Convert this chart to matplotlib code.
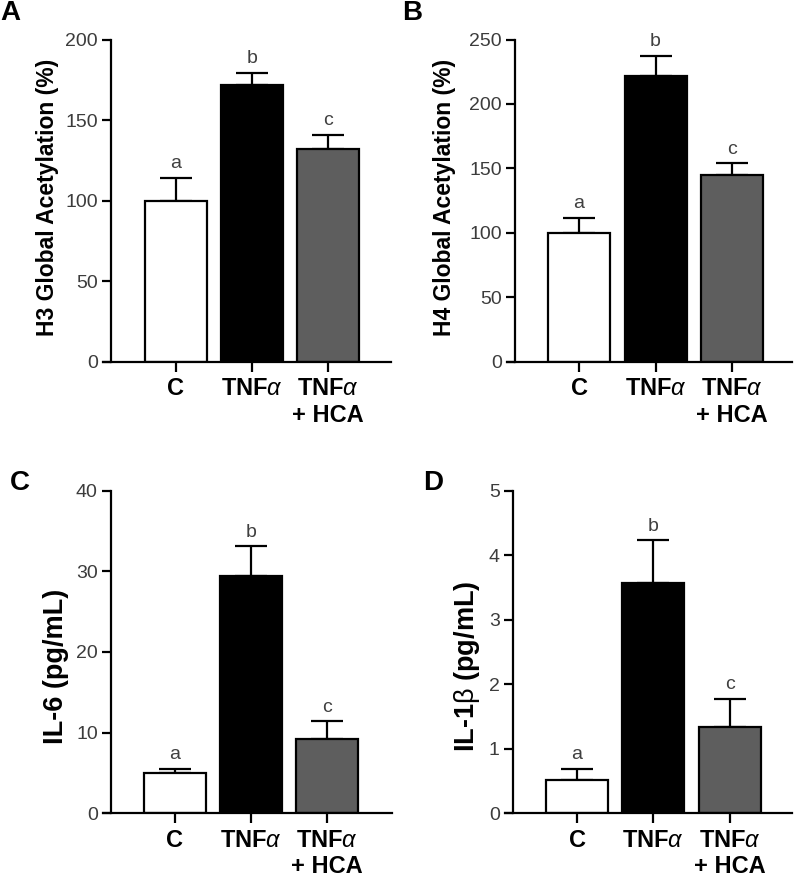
import matplotlib
matplotlib.use("Agg")
import matplotlib.pyplot as plt
import numpy as np

plt.rcParams['font.family'] = ['Liberation Sans', 'DejaVu Sans']
plt.rcParams['mathtext.fontset'] = 'custom'
plt.rcParams['mathtext.rm'] = 'Liberation Sans'
plt.rcParams['mathtext.it'] = 'Liberation Sans:italic'
plt.rcParams['mathtext.bf'] = 'Liberation Sans:bold'

# ---------------- data ----------------
categories = ['C', 'TNF$\\alpha$', 'TNF$\\alpha$\n+ HCA']
bar_colors = ['white', 'black', '#5e5e5e']
sig_letters = ['a', 'b', 'c']

h3_mean = [100, 171.6, 132.0]
h3_sem = [14.3, 7.6, 8.8]
h4_mean = [100, 222.0, 144.5]
h4_sem = [11.7, 15.3, 9.5]
il6_mean = [4.96, 29.45, 9.25]
il6_sem = [0.55, 3.65, 2.15]
il1b_mean = [0.52, 3.57, 1.33]
il1b_sem = [0.17, 0.66, 0.44]

panels = [
    dict(tag='A', mean=h3_mean, sem=h3_sem, ymax=200, ystep=50,
         ylabel='H3 Global Acetylation (%)'),
    dict(tag='B', mean=h4_mean, sem=h4_sem, ymax=250, ystep=50,
         ylabel='H4 Global Acetylation (%)'),
    dict(tag='C', mean=il6_mean, sem=il6_sem, ymax=40, ystep=10,
         ylabel='IL-6 (pg/mL)'),
    dict(tag='D', mean=il1b_mean, sem=il1b_sem, ymax=5, ystep=1,
         ylabel='IL-1$\\mathrm{\\beta}$ (pg/mL)'),
]

# ---------------- layout (pixels) ----------------
W, H = 797, 877
layout = {
    'A': dict(yax=111, xl=103, xr=391, top=39.5, bot=362, c0=176, dx=76,
              lab=(47.5, 197.5), labfs=16.5, tag_xy=(0, 20)),
    'B': dict(yax=515, xl=507, xr=792, top=39.5, bot=361.7, c0=579, dx=76.5,
              lab=(444, 197.5), labfs=16.5, tag_xy=(402, 20)),
    'C': dict(yax=111, xl=103, xr=391.7, top=490.7, bot=813.3, c0=174.5, dx=76.25,
              lab=(56, 666.5), labfs=19.5, tag_xy=(10, 490)),
    'D': dict(yax=513, xl=505, xr=791.7, top=490.7, bot=813.3, c0=577, dx=76.3,
              lab=(467, 666), labfs=19.5, tag_xy=(423, 490)),
}

fig = plt.figure(figsize=(W / 100, H / 100), dpi=100)

for p in panels:
    L = layout[p['tag']]
    ax = fig.add_axes([L['xl'] / W, 1 - L['bot'] / H,
                       (L['xr'] - L['xl']) / W, (L['bot'] - L['top']) / H])
    x = np.arange(len(categories))
    ax.bar(x, p['mean'], width=62 / L['dx'], color=bar_colors,
           edgecolor='black', linewidth=1.6, zorder=2)
    ax.errorbar(x, p['mean'], yerr=[np.zeros(len(x)), p['sem']], fmt='none',
                ecolor='black', elinewidth=1.6, capsize=11.5, capthick=1.6,
                zorder=1)
    for xi, m, s, let in zip(x, p['mean'], p['sem'], sig_letters):
        ax.annotate(let, (xi, m + s), xytext=(0, 7), textcoords='offset points',
                    ha='center', va='baseline', fontsize=14, color='#404040')
    ax.set_xlim((L['xl'] - L['c0']) / L['dx'], (L['xr'] - L['c0']) / L['dx'])
    ax.set_ylim(0, p['ymax'])
    ax.set_yticks(np.arange(0, p['ymax'] + p['ystep'] / 2, p['ystep']))
    ax.set_xticks(x)
    ax.set_xticklabels(categories, fontsize=17, fontweight='bold',
                       linespacing=1.2)
    for s in ['top', 'right']:
        ax.spines[s].set_visible(False)
    ax.spines['left'].set_position(('axes', (L['yax'] - L['xl']) / (L['xr'] - L['xl'])))
    for s in ['left', 'bottom']:
        ax.spines[s].set_linewidth(1.6)
    ax.tick_params(axis='y', length=6.5, width=1.6, labelsize=14,
                   labelcolor='#3c3c3c', pad=3)
    ax.tick_params(axis='x', length=7, width=1.6, pad=4)
    fig.text(L['lab'][0] / W, 1 - L['lab'][1] / H, p['ylabel'], rotation=90,
             ha='center', va='center', fontsize=L['labfs'], fontweight='bold')
    fig.text(L['tag_xy'][0] / W, 1 - L['tag_xy'][1] / H, p['tag'],
             ha='left', va='baseline', fontsize=20, fontweight='bold')

fig.savefig('out.png', dpi=100)
